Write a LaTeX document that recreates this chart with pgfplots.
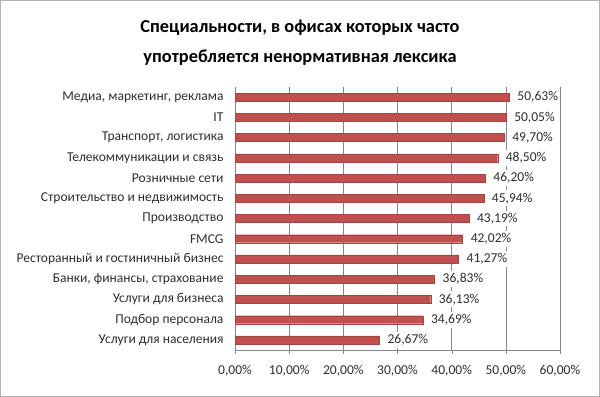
\documentclass[border=0pt]{standalone}
\usepackage{fontspec}
\setmainfont{Carlito}
\usepackage{pgfplots}
\pgfplotsset{compat=1.18}
\definecolor{barred}{RGB}{192,80,77}
\definecolor{gridgray}{RGB}{134,134,134}
\begin{document}
\begin{tikzpicture}
\draw[gray!60,line width=1bp] (0.5bp,0.5bp) rectangle (599.5bp,396.5bp);
\node[font=\bfseries\fontsize{18.4}{30}\selectfont,align=center] at (300bp,354bp) {Специальности, в офисах которых часто\\употребляется ненормативная лексика};
\begin{axis}[
  at={(235bp,47bp)}, anchor=south west,
  scale only axis, width=325bp, height=263bp,
  xbar, bar width=8bp,
  xmin=0, xmax=60, ymin=-0.5, ymax=12.5,
  axis x line*=bottom, axis y line*=left,
  axis line style={gridgray},
  xtick={0,10,...,60},
  xmajorgrids, major grid style={gridgray, line width=0.6bp},
  xtick style={gridgray}, major tick length=4bp,
  tick align=outside,
  xticklabel={\pgfmathprintnumber[fixed,fixed zerofill,precision=2,use comma,assume math mode=true]{\tick}\%},
  ytick={0,...,12},
  yticklabels={Услуги для населения, Подбор персонала, Услуги для бизнеса, {Банки, финансы, страхование}, Ресторанный и гостиничный бизнес, FMCG, Производство, Строительство и недвижимость, Розничные сети, Телекоммуникации и связь, {Транспорт, логистика}, IT, {Медиа, маркетинг, реклама}},
  ytick style={draw=none},
  minor ytick={-0.5,0.5,...,12.5},
  minor tick length=4bp,
  minor tick style={gridgray},
  tick label style={font=\fontsize{13.6}{15}\selectfont, text=black!82},
  yticklabel style={xshift=-4bp},
  xticklabel style={yshift=-8bp},
  nodes near coords={\pgfmathprintnumber[fixed,fixed zerofill,precision=2,use comma,assume math mode=true]{\pgfplotspointmeta}\%},
  point meta=x,
  every node near coord/.append style={font=\fontsize{13.6}{15}\selectfont, text=black!82, fill=white, inner sep=2.5bp, xshift=5.5bp},
  clip=false,
]
\addplot[fill=barred, draw=barred!85!black, line width=0.3bp] coordinates {
(26.67,0) (34.69,1) (36.13,2) (36.83,3) (41.27,4) (42.02,5) (43.19,6) (45.94,7) (46.20,8) (48.50,9) (49.70,10) (50.05,11) (50.63,12)
};
\end{axis}
\end{tikzpicture}
\end{document}
